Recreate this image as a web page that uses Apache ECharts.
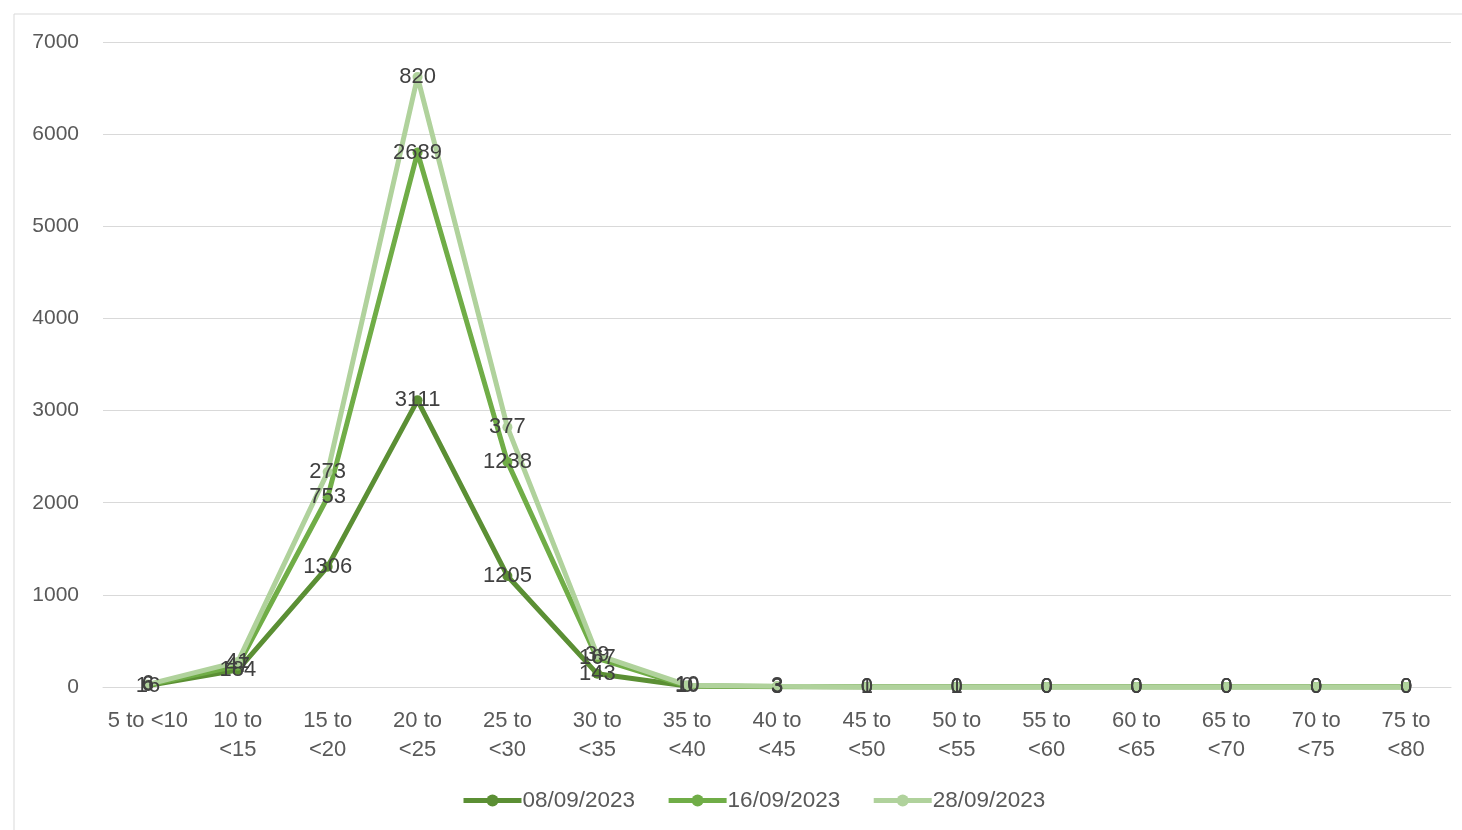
<!DOCTYPE html>
<html><head><meta charset="utf-8">
<script src="https://cdn.jsdelivr.net/npm/echarts@6/dist/echarts.min.js"></script>
<style>html,body{margin:0;padding:0;background:#fff}#c{width:1462px;height:830px}</style>
</head><body><div id="c"></div>
<script>
const categories = ["5 to <10","10 to\n<15","15 to\n<20","20 to\n<25","25 to\n<30","30 to\n<35","35 to\n<40","40 to\n<45","45 to\n<50","50 to\n<55","55 to\n<60","60 to\n<65","65 to\n<70","70 to\n<75","75 to\n<80"];
const seriesNames = ["08/09/2023","16/09/2023","28/09/2023"];
const s0809 = [16,184,1306,3111,1205,143,10,3,1,0,0,0,0,0,0];
const s1609 = [6,47,753,2689,1238,167,0,3,0,1,0,0,0,0,0];
const s2809 = [6,41,273,820,377,39,10,3,0,0,0,0,0,0,0];
const yTicks = {min:0,max:7000,interval:1000};
const colors = ["#5b8f34","#70ad47","#b0d29c"];

const chart = echarts.init(document.getElementById('c'));
const font = "Liberation Sans, Arial, sans-serif";
const mk = (name, data, color) => ({
  name, type:'line', stack:'total', data,
  symbol:'circle', symbolSize:10,
  lineStyle:{width:5,color}, itemStyle:{color},
  label:{show:true, position:'inside', color:'#404040', fontSize:22, fontFamily:font},
  emphasis:{disabled:true}
});
chart.setOption({
  animation:false,
  graphic:[{type:'polyline',shape:{points:[[14,830],[14,14],[1462,14]]},style:{stroke:'#d9d9d9',lineWidth:1,fill:null}}],
  grid:{left:103,right:11,top:42,bottom:143,containLabel:false},
  legend:{bottom:13,left:456,itemWidth:58,itemHeight:15,itemGap:31,
    lineStyle:{width:5},
    textStyle:{color:'#595959',fontSize:22.5,fontFamily:font,padding:[0,0,0,-4]},
    data:seriesNames},
  xAxis:{type:'category',data:categories,boundaryGap:true,
    axisLine:{lineStyle:{color:'#d9d9d9',width:1}},axisTick:{show:false},
    axisLabel:{color:'#595959',fontSize:22,fontFamily:font,margin:19,lineHeight:29,interval:0}},
  yAxis:{type:'value',min:yTicks.min,max:yTicks.max,interval:yTicks.interval,
    axisLine:{show:false},axisTick:{show:false},
    splitLine:{lineStyle:{color:'#d9d9d9',width:1}},
    axisLabel:{color:'#595959',fontSize:21,fontFamily:font,margin:24,formatter:v=>String(v)}},
  series:[mk(seriesNames[0],s0809,colors[0]),mk(seriesNames[1],s1609,colors[1]),mk(seriesNames[2],s2809,colors[2])]
});
</script></body></html>
